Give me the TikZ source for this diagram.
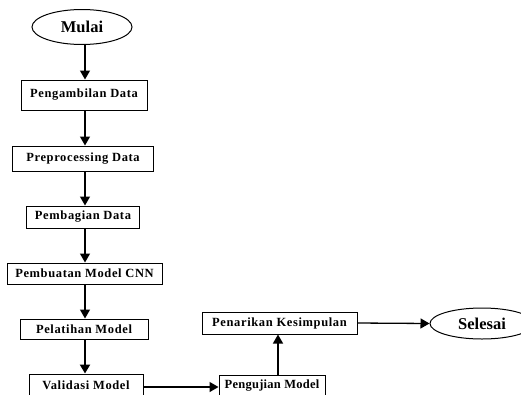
\documentclass[tikz,border=0pt]{standalone}
\usepackage{fontspec}
\setmainfont{Liberation Serif}
\newfontfamily\boxfont[LetterSpace=5]{Liberation Serif}
\newfontfamily\tightfont[LetterSpace=2]{Liberation Serif}
\usetikzlibrary{shapes.geometric,arrows.meta}
\begin{document}
\begin{tikzpicture}[x=1pt,y=-1pt,
  box/.style={draw,line width=1pt,inner sep=0pt,font=\boxfont\fontsize{12.5}{14}\selectfont\bfseries},
  oval/.style={draw,ellipse,line width=1pt,inner sep=0pt,font=\fontsize{16.5}{18}\selectfont\bfseries},
  arr/.style={line width=1.3pt,-{Triangle[width=10pt,length=9pt]}}]
\useasboundingbox (0,0) rectangle (521,394);
\clip (0,0) rectangle (521,394);
\fill[white] (0,0) rectangle (521,394);
\node[oval,minimum width=100pt,minimum height=35pt] (mulai) at (82,27) {Mulai};
\node[box,minimum width=126pt,minimum height=30pt] (n1) at (84,95) {Pengambilan Data};
\node[box,minimum width=141pt,minimum height=25pt] (n2) at (83,158.5) {Preprocessing Data};
\node[box,minimum width=113pt,minimum height=22pt] (n3) at (83,217) {Pembagian Data};
\node[box,minimum width=155pt,minimum height=21pt] (n4) at (84.5,273.5) {Pembuatan Model CNN};
\node[box,minimum width=128pt,minimum height=20pt] (n5) at (84,329) {Pelatihan Model};
\node[box,minimum width=114pt,minimum height=22pt] (n6) at (86,385) {Validasi Model};
\node[box,font=\tightfont\fontsize{12.5}{14}\selectfont\bfseries,minimum width=106pt,minimum height=22pt] (n7) at (272,386) {Pengujian Model};
\node[box,minimum width=155pt,minimum height=22pt] (n8) at (279.5,323) {Penarikan Kesimpulan};
\node[oval,minimum width=104pt,minimum height=31pt] (selesai) at (482,323.5) {Selesai};
\coordinate (ax) at (85,0);
\draw[arr] (mulai.south -| ax) -- (n1.north -| ax);
\draw[arr] (n1.south -| ax) -- (n2.north -| ax);
\draw[arr] (n2.south -| ax) -- (n3.north -| ax);
\draw[arr] (n3.south -| ax) -- (n4.north -| ax);
\draw[arr] (n4.south -| ax) -- (n5.north -| ax);
\draw[arr,line width=2pt] (n5.south -| ax) -- (n6.north -| ax);
\draw[arr] ([yshift=-2pt]n6.east) -- ([yshift=-2pt]n6.east -| n7.west);
\draw[arr] ([xshift=6pt]n7.north) -- ([xshift=6pt]n7.north |- n8.south);
\draw[arr] (n8.east) -- (selesai.west);
\end{tikzpicture}
\end{document}
